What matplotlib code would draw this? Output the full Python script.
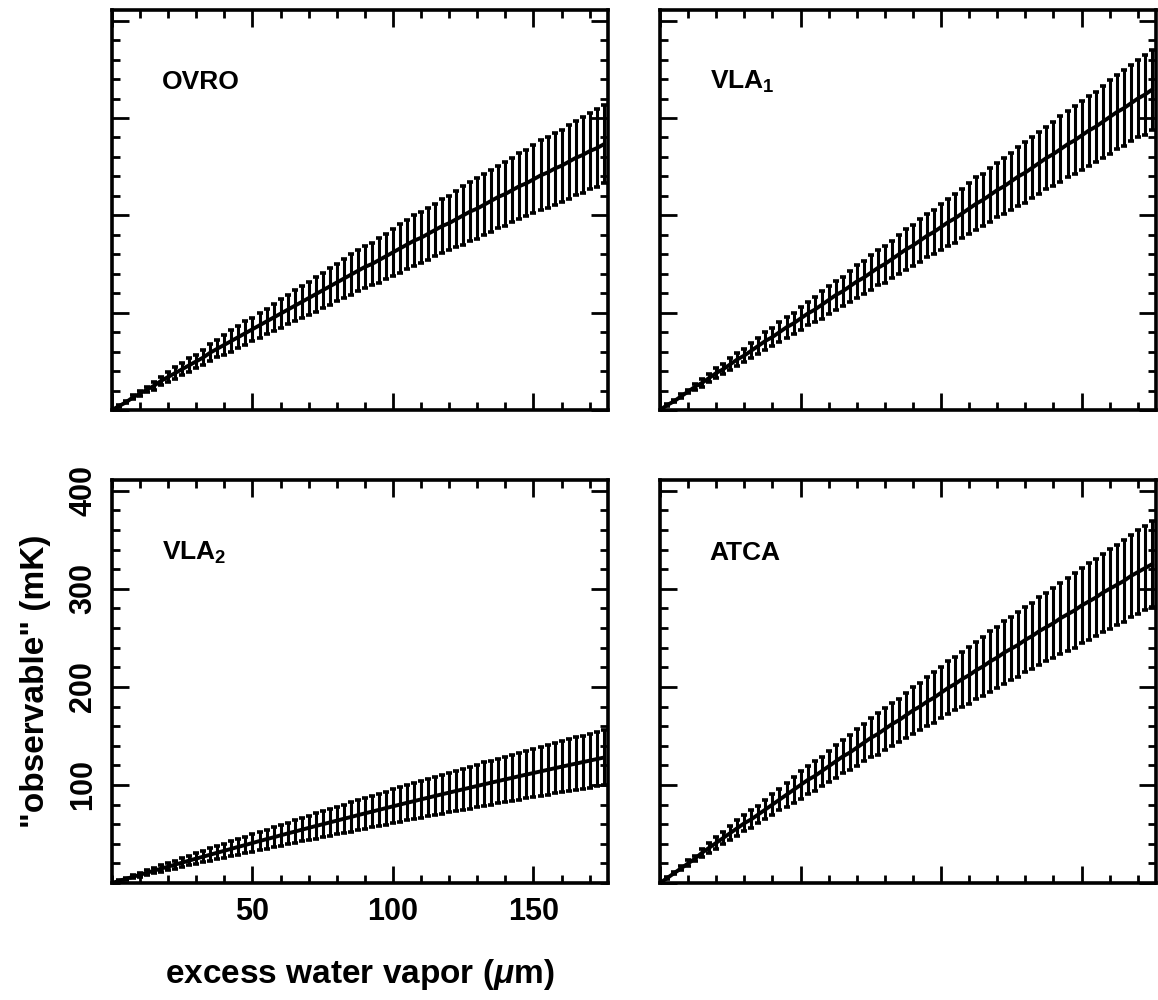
import matplotlib
matplotlib.use("Agg")
import matplotlib.pyplot as plt
import numpy as np
from matplotlib.ticker import MultipleLocator

plt.rcParams["font.family"] = ["Liberation Sans", "DejaVu Sans"]
plt.rcParams["font.weight"] = "bold"
plt.rcParams["mathtext.fontset"] = "custom"
plt.rcParams["mathtext.rm"] = "Liberation Sans:bold"
plt.rcParams["mathtext.it"] = "Liberation Sans:italic:bold"

# excess water vapour (micron), one point every 2.5
water = np.arange(0, 177, 2.5)[:71]

ovro_val = [0, 4, 8, 13, 17, 21, 25, 30, 34, 38, 42, 46, 50, 54, 59, 63, 67, 71, 75, 79,
            83, 87, 91, 95, 99, 103, 107, 111, 115, 119, 123, 127, 131, 135, 139, 143,
            147, 150, 154, 158, 162, 166, 170, 174, 177, 181, 185, 189, 192, 196, 200,
            204, 207, 211, 215, 219, 222, 226, 230, 233, 237, 241, 244, 248, 251, 255,
            259, 262, 266, 269, 273]
ovro_err = [0, 1, 1, 2, 3, 3, 4, 4, 5, 6, 6, 7, 7, 8, 9, 9, 10, 11, 11, 12, 12, 13, 13,
            14, 15, 15, 16, 16, 17, 18, 18, 19, 19, 20, 21, 21, 22, 22, 23, 23, 24, 25,
            25, 26, 26, 27, 27, 28, 28, 29, 30, 30, 31, 31, 32, 32, 33, 33, 34, 34, 35,
            36, 36, 37, 37, 38, 38, 39, 39, 40, 40]

vla1_val = [0, 5, 9, 14, 19, 24, 28, 33, 38, 42, 47, 52, 56, 61, 66, 71, 75, 80, 85, 89,
            94, 99, 103, 108, 113, 118, 122, 127, 132, 136, 141, 146, 150, 155, 160, 165,
            169, 174, 179, 183, 188, 193, 197, 202, 207, 212, 216, 221, 226, 230, 235,
            240, 244, 249, 254, 259, 263, 268, 273, 277, 282, 287, 291, 296, 301, 306,
            310, 315, 320, 324, 329]
vla1_err = [0, 1, 1, 2, 2, 3, 4, 4, 5, 5, 6, 7, 7, 8, 8, 9, 9, 10, 11, 11, 12, 12, 13,
            14, 14, 15, 15, 16, 17, 17, 18, 18, 19, 19, 20, 21, 21, 22, 22, 23, 24, 24,
            25, 25, 26, 27, 27, 28, 28, 29, 29, 30, 31, 31, 32, 32, 33, 34, 34, 35, 35,
            36, 36, 37, 38, 38, 39, 39, 40, 41, 41]

vla2_val = [0, 2.1, 4.2, 6.3, 8.4, 10.5, 12.6, 14.7, 16.7, 18.8, 20.8, 22.9, 24.9, 26.9,
            28.9, 30.9, 32.9, 34.9, 36.9, 38.8, 40.8, 42.8, 44.7, 46.6, 48.6, 50.5, 52.4,
            54.3, 56.2, 58.1, 59.9, 61.8, 63.6, 65.5, 67.3, 69.2, 71.0, 72.8, 74.6, 76.4,
            78.2, 80.0, 81.8, 83.5, 85.3, 87.0, 88.8, 90.5, 92.2, 93.9, 95.6, 97.3, 99.0,
            100.7, 102.4, 104.0, 105.7, 107.3, 109.0, 110.6, 112.2, 113.8, 115.4, 117.0,
            118.6, 120.2, 121.7, 123.3, 124.8, 126.4, 127.9]
vla2_err = [0, 0.5, 0.9, 1.4, 1.8, 2.3, 2.8, 3.2, 3.7, 4.1, 4.6, 5.0, 5.5, 5.9, 6.4, 6.8,
            7.2, 7.7, 8.1, 8.5, 9.0, 9.4, 9.8, 10.3, 10.7, 11.1, 11.5, 11.9, 12.4, 12.8,
            13.2, 13.6, 14.0, 14.4, 14.8, 15.2, 15.6, 16.0, 16.4, 16.8, 17.2, 17.6, 18.0,
            18.4, 18.8, 19.1, 19.5, 19.9, 20.3, 20.7, 21.0, 21.4, 21.8, 22.2, 22.5, 22.9,
            23.3, 23.6, 24.0, 24.3, 24.7, 25.0, 25.4, 25.7, 26.1, 26.4, 26.8, 27.1, 27.5,
            27.8, 28.1]

atca_val = [0, 5, 10, 15, 20, 25, 31, 36, 41, 46, 51, 56, 61, 65, 70, 75, 80, 85, 90, 95,
            100, 105, 109, 114, 119, 124, 129, 133, 138, 143, 148, 152, 157, 162, 166,
            171, 176, 180, 185, 189, 194, 199, 203, 208, 212, 217, 221, 226, 230, 235,
            239, 243, 248, 252, 257, 261, 265, 270, 274, 278, 283, 287, 291, 296, 300,
            304, 308, 313, 317, 321, 325]
atca_err = [0, 1, 1, 2, 3, 3, 4, 5, 6, 6, 7, 8, 8, 9, 9, 10, 11, 11, 12, 13, 14, 14, 15,
            15, 16, 17, 17, 18, 19, 19, 20, 21, 21, 22, 22, 23, 24, 24, 25, 26, 26, 27,
            27, 28, 29, 29, 30, 31, 31, 32, 32, 33, 33, 34, 35, 35, 36, 36, 37, 38, 38,
            39, 39, 40, 41, 41, 42, 42, 43, 43, 44]

names = ["OVRO", r"VLA$_1$", r"VLA$_2$", "ATCA"]
values = [ovro_val, vla1_val, vla2_val, atca_val]
errors = [ovro_err, vla1_err, vla2_err, atca_err]

fig = plt.figure(figsize=(11.58, 10), dpi=100)

# [left, bottom, width, height] in figure fraction
w, h = 0.4283, 0.40
boxes = [[0.0967, 0.59, w, h], [0.570, 0.59, w, h],
         [0.0967, 0.117, w, 0.403], [0.570, 0.117, w, 0.403]]

for i in range(4):
    ax = fig.add_axes(boxes[i])
    ax.errorbar(water, values[i], yerr=errors[i], color="black", lw=2.8,
                elinewidth=2.2, capsize=2.5, capthick=2.6)
    ax.set_xlim(0, 176.5)
    ax.set_ylim(0, 411)
    ax.xaxis.set_major_locator(MultipleLocator(50))
    ax.xaxis.set_minor_locator(MultipleLocator(10))
    ax.yaxis.set_major_locator(MultipleLocator(100))
    ax.yaxis.set_minor_locator(MultipleLocator(20))
    ax.tick_params(which="both", direction="in", top=True, right=True, width=2)
    ax.tick_params(which="major", length=12)
    ax.tick_params(which="minor", length=6)
    for s in ax.spines.values():
        s.set_linewidth(2.6)
    ax.text(0.10, 0.82, names[i], transform=ax.transAxes, fontsize=19,
            fontweight="bold", va="center", ha="left")
    if i == 2:
        ax.set_xticks([50, 100, 150])
        ax.set_yticks([100, 200, 300, 400])
        ax.tick_params(axis="x", labelsize=22, pad=10)
        ax.tick_params(axis="y", labelsize=22, pad=10)
        for lab in ax.get_yticklabels():
            lab.set_rotation(90)
            lab.set_va("center")
        ax.set_xlabel(r"excess water vapor ($\mu$m)", fontsize=24,
                      fontweight="bold", labelpad=22)
        ax.set_ylabel('"observable" (mK)', fontsize=24, fontweight="bold",
                      labelpad=12)
    else:
        ax.set_xticklabels([])
        ax.set_yticklabels([])

fig.savefig("out.png", dpi=100)
